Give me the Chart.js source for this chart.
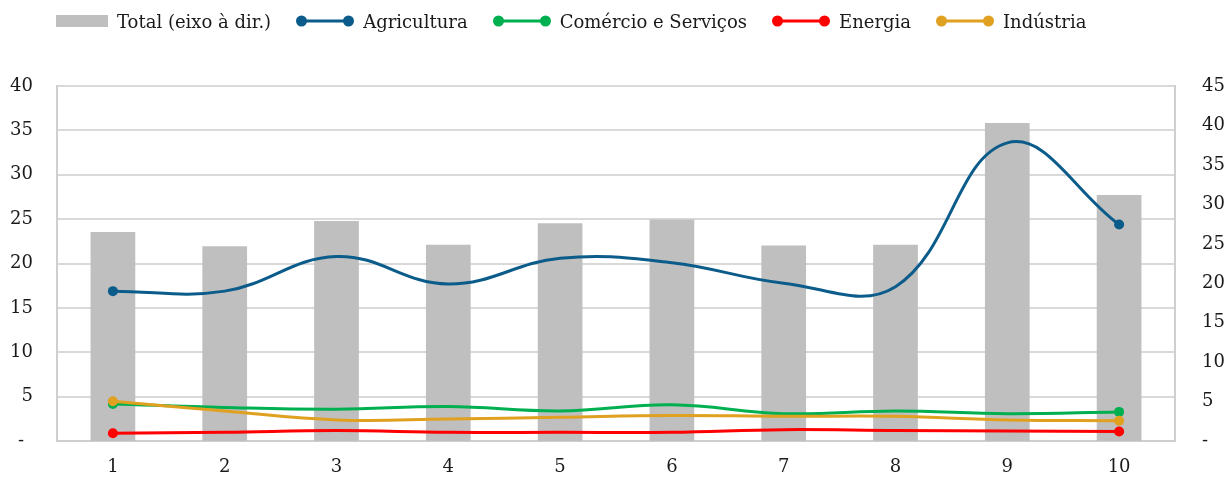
<!DOCTYPE html>
<html>
<head>
<meta charset="utf-8">
<script src="https://cdn.jsdelivr.net/npm/chart.js@4.4.1/dist/chart.umd.min.js"></script>
<style>
  html, body { margin: 0; padding: 0; background: #fff; }
  #wrap { position: relative; width: 1231px; height: 479px; }
  #myChart { display: block; }
  #legend {
    position: absolute; left: 56px; top: 8px; height: 26px;
    display: flex; align-items: center;
    font-family: "DejaVu Serif", serif; font-size: 18px; color: #1a1a1a;
  }
  .item { display: flex; align-items: center; margin-right: 25px; white-space: nowrap; }
  .item svg { margin-right: 9px; }
</style>
</head>
<body>
<div id="wrap">
  <div id="legend"></div>
  <canvas id="myChart" width="1231" height="479"></canvas>
</div>
<script>
// categories and tick labels
const labels = ['1', '2', '3', '4', '5', '6', '7', '8', '9', '10'];

// Total (right axis)
const total = [26.5, 24.7, 27.9, 24.9, 27.6, 28.1, 24.8, 24.9, 40.3, 31.2];

// sectors (left axis)
const agricultura = [16.9, 16.9, 20.8, 17.7, 20.6, 20.1, 17.8, 17.4, 33.6, 24.4];
const comercio = [4.2, 3.8, 3.6, 3.9, 3.4, 4.1, 3.1, 3.4, 3.1, 3.3];
const energia = [0.9, 1.0, 1.2, 1.0, 1.0, 1.0, 1.3, 1.2, 1.15, 1.1];
const industria = [4.5, 3.4, 2.4, 2.5, 2.7, 2.9, 2.8, 2.8, 2.4, 2.3];

const seriesNames = ['Agricultura', 'Comércio e Serviços', 'Energia', 'Indústria'];
const seriesColors = ['#0b5c8a', '#00b050', '#ff0000', '#e0a020'];
const seriesData = [agricultura, comercio, energia, industria];
const totalName = 'Total (eixo à dir.)';
const totalColor = '#bfbfbf';

const fontFamily = '"DejaVu Serif", serif';
const gridColor = '#d9d9d9';

// only first and last points get a marker
const endDots = labels.map((l, i) => (i === 0 || i === labels.length - 1) ? 5 : 0);

const lineSets = seriesNames.map((name, i) => ({
  type: 'line',
  label: name,
  data: seriesData[i],
  yAxisID: 'y',
  borderColor: seriesColors[i],
  backgroundColor: seriesColors[i],
  borderWidth: 3,
  tension: 0.4,
  pointRadius: endDots,
  pointHoverRadius: endDots,
  pointBorderWidth: 0,
  order: 4 - i
}));

// html legend
const legend = document.getElementById('legend');
function addItem(marker, text) {
  const d = document.createElement('div');
  d.className = 'item';
  d.innerHTML = marker + '<span>' + text + '</span>';
  legend.appendChild(d);
}
addItem('<svg width="52" height="14"><rect x="0" y="1" width="52" height="12" fill="' + totalColor + '"/></svg>', totalName);
seriesNames.forEach((n, i) => {
  const c = seriesColors[i];
  addItem('<svg width="58" height="14"><line x1="5" y1="7" x2="53" y2="7" stroke="' + c + '" stroke-width="3"/>' +
    '<circle cx="5.5" cy="7" r="5.5" fill="' + c + '"/><circle cx="52.5" cy="7" r="5.5" fill="' + c + '"/></svg>', n);
});

const tickFont = { family: fontFamily, size: 18 };

var ctx = document.getElementById('myChart').getContext('2d');
var myChart = new Chart(ctx, {
  type: 'bar',
  data: {
    labels: labels,
    datasets: [...lineSets, {
      type: 'bar',
      label: totalName,
      data: total,
      yAxisID: 'y2',
      backgroundColor: totalColor,
      barPercentage: 0.4,
      categoryPercentage: 1,
      order: 10
    }]
  },
  options: {
    responsive: false,
    animation: false,
    layout: { padding: { top: 86, left: 0, right: 0, bottom: 0 } },
    plugins: { legend: { display: false }, tooltip: { enabled: false } },
    scales: {
      x: {
        offset: true,
        afterFit: s => { s.height = 37; },
        grid: { display: false, drawTicks: false },
        border: { display: true, color: '#cfcfcf', width: 2 },
        ticks: { padding: 15, color: '#1a1a1a', font: tickFont }
      },
      y: {
        position: 'left',
        min: 0, max: 40,
        afterFit: s => { s.width = 57; },
        grid: { color: gridColor, lineWidth: 2, drawTicks: false },
        border: { display: true, color: '#cfcfcf', width: 2 },
        ticks: { stepSize: 5, padding: 24, color: '#1a1a1a', font: tickFont, callback: v => v === 0 ? '-\u2002' : v }
      },
      y2: {
        position: 'right',
        min: 0, max: 45,
        afterFit: s => { s.width = 56; },
        grid: { display: false, drawTicks: false },
        border: { display: true, color: '#cfcfcf', width: 2 },
        ticks: { stepSize: 5, padding: 27, color: '#1a1a1a', font: tickFont, callback: v => v === 0 ? '-' : v }
      }
    }
  }
});
</script>
</body>
</html>
